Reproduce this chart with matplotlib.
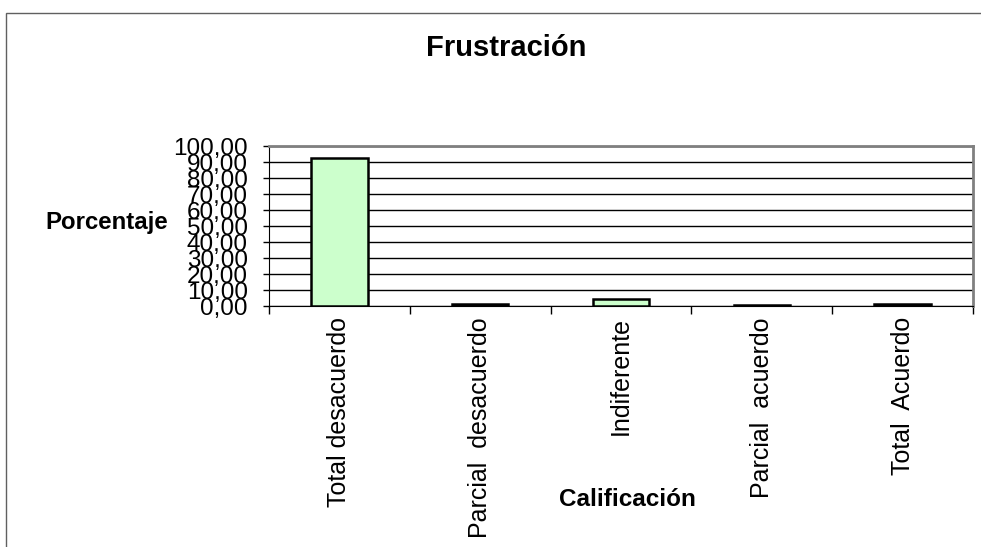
import matplotlib.pyplot as plt
from matplotlib.patches import Rectangle

plt.rcParams['font.family'] = ['Liberation Sans', 'DejaVu Sans']

# data
categorias = ['Total desacuerdo', 'Parcial  desacuerdo', 'Indiferente',
              'Parcial  acuerdo', 'Total  Acuerdo']
porcentaje = [92.3, 1.0, 4.5, 0.6, 1.0]
ticks_y = [0, 10, 20, 30, 40, 50, 60, 70, 80, 90, 100]
etiquetas_y = ['%d,00' % t for t in ticks_y]

fig = plt.figure(figsize=(9.81, 5.47), dpi=100)
ax = fig.add_axes([269 / 981, 1 - 306 / 547, (973 - 269) / 981, (306 - 146) / 547])

x = list(range(len(categorias)))
ax.bar(x, porcentaje, width=0.4, color='#ccffcc', edgecolor='black', linewidth=1.8, zorder=3)

ax.set_xlim(-0.5, len(categorias) - 0.5)
ax.set_ylim(0, 100)
ax.set_yticks(ticks_y)
ax.set_yticklabels(etiquetas_y, fontsize=17.5)
ax.yaxis.grid(True, color='black', linewidth=1.0, zorder=0)

# ticks between categories
ax.set_xticks([i + 0.5 for i in range(-1, len(categorias))], minor=False)
ax.set_xticklabels([])
ax.tick_params(axis='x', direction='out', length=6, width=1, color='black')
ax.tick_params(axis='y', direction='out', length=4.3, width=1, pad=11)
ax.set_xticks(x, minor=True)
ax.set_xticklabels(categorias, minor=True, rotation=90, fontsize=18)
ax.tick_params(axis='x', which='minor', length=0, pad=8)

ax.spines['left'].set_color('black')
ax.spines['bottom'].set_color('black')
ax.spines['top'].set_color('#808080')
ax.spines['right'].set_color('#808080')
ax.spines['top'].set_linewidth(2)
ax.spines['right'].set_linewidth(2)

fig.text(506 / 981, 1 - 48 / 547, 'Frustración', ha='center', va='center',
         fontsize=21, fontweight='bold')
fig.text(45 / 981, 1 - 222 / 547, 'Porcentaje', ha='left', va='center',
         fontsize=17.3, fontweight='bold')
fig.text(627 / 981, 1 - 500 / 547, 'Calificación', ha='center', va='center',
         fontsize=17.5, fontweight='bold')

# chart area border
fig.patches.append(Rectangle((6 / 981, -0.1), 1.2, 1 - 13 / 547 + 0.1,
                             transform=fig.transFigure, fill=False,
                             edgecolor='#606060', linewidth=1))

fig.savefig('out.png', dpi=100)
